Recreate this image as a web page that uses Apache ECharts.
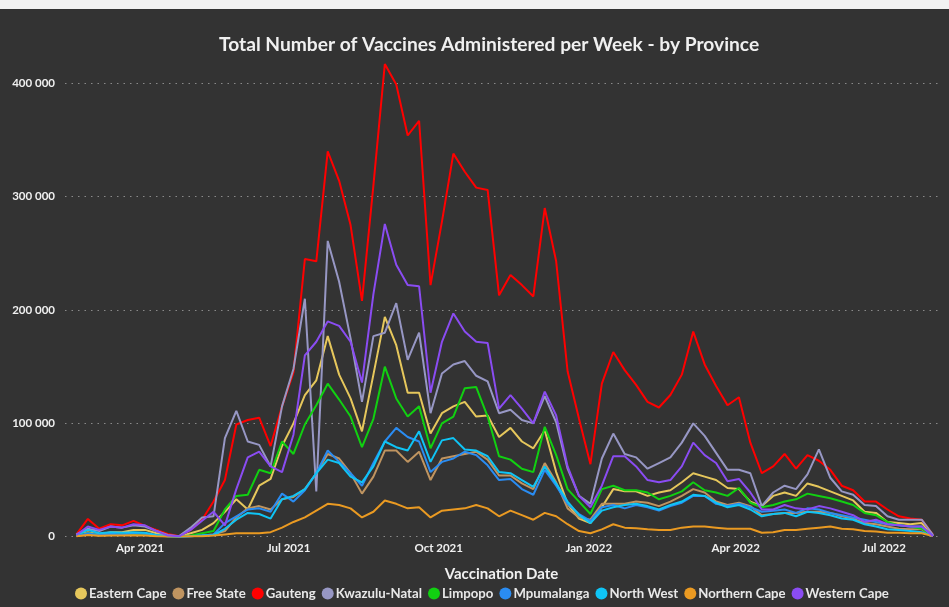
<!DOCTYPE html>
<html>
<head>
<meta charset="utf-8">
<script src="https://cdn.jsdelivr.net/npm/echarts@6/dist/echarts.min.js"></script>
<style>
  html, body { margin: 0; padding: 0; background: #f2f2f2; }
  #chart { position: absolute; left: 0; top: 9px; width: 949px; height: 598px; background: #333333; }
</style>
</head>
<body>
<div id="chart"></div>
<script>
// Week start dates (one point per week)
const weeks = [
  '2021-02-21','2021-02-28','2021-03-07','2021-03-14','2021-03-21','2021-03-28',
  '2021-04-04','2021-04-11','2021-04-18','2021-04-25','2021-05-02','2021-05-09',
  '2021-05-16','2021-05-23','2021-05-30','2021-06-06','2021-06-13','2021-06-20',
  '2021-06-27','2021-07-04','2021-07-11','2021-07-18','2021-07-25','2021-08-01',
  '2021-08-08','2021-08-15','2021-08-22','2021-08-29','2021-09-05','2021-09-12',
  '2021-09-19','2021-09-26','2021-10-03','2021-10-10','2021-10-17','2021-10-24',
  '2021-10-31','2021-11-07','2021-11-14','2021-11-21','2021-11-28','2021-12-05',
  '2021-12-12','2021-12-19','2021-12-26','2022-01-02','2022-01-09','2022-01-16',
  '2022-01-23','2022-01-30','2022-02-06','2022-02-13','2022-02-20','2022-02-27',
  '2022-03-06','2022-03-13','2022-03-20','2022-03-27','2022-04-03','2022-04-10',
  '2022-04-17','2022-04-24','2022-05-01','2022-05-08','2022-05-15','2022-05-22',
  '2022-05-29','2022-06-05','2022-06-12','2022-06-19','2022-06-26','2022-07-03',
  '2022-07-10','2022-07-17','2022-07-24','2022-07-31'
];

// Quarter labels on the date axis
const quarterTicks = ['2021-04-01','2021-07-01','2021-10-01','2022-01-01','2022-04-01','2022-07-01'];
const yTicks = [0, 100000, 200000, 300000, 400000];

const provinces = ['Eastern Cape','Free State','Gauteng','Kwazulu-Natal','Limpopo','Mpumalanga','North West','Northern Cape','Western Cape'];
const colors = ['#e6c75c','#bf9460','#ff0000','#9797c4','#11d011','#2a8cf2','#0fc4f5','#ea9a22','#8a4cf2'];

const easternCape = [1000,4000,2000,4000,4000,6000,6000,3000,1000,200,3000,6000,12000,22000,33000,24000,45000,51000,80000,100000,125000,138000,177000,143000,122000,93000,143000,194000,169000,127000,127000,91000,109000,115000,119000,106000,107000,88000,96000,84000,78000,94000,57000,29000,16000,12000,26000,42000,40000,40000,36000,39000,41000,48000,56000,53000,50000,43000,42000,31000,27000,36000,39000,36000,47000,44000,40000,36000,32000,22000,21000,13000,12000,11000,12000,1000];
const freeState = [500,2000,1000,1500,1500,2000,2000,800,300,100,500,1000,2000,5000,17000,25000,27000,24000,33000,35000,42000,56000,73000,69000,56000,38000,53000,76000,76000,66000,75000,50000,69000,71000,73000,75000,68000,54000,54000,47000,42000,65000,48000,25000,17000,15000,29000,29000,29000,31000,30000,27000,31000,36000,42000,39000,31000,28000,30000,27000,19000,20000,21000,21000,22000,22000,21000,18000,16000,12000,11000,9000,7000,6500,6500,500];
const gauteng = [2000,15700,7000,11000,10000,14000,9500,6000,2500,500,6000,15000,31000,50000,99000,103000,105000,80000,115000,145000,245000,243000,340000,314000,275000,208000,310000,417000,399000,354000,367000,222000,278000,338000,322000,308000,306000,213000,231000,222000,212000,290000,243000,146000,104000,64000,135000,163000,147000,134000,119000,114000,125000,143000,181000,152000,133000,116000,123000,83000,56000,62000,73000,60000,72000,67000,59000,45000,41000,31000,31000,24000,18000,16000,15000,1500];
const kwazuluNatal = [2000,7000,5000,9000,8000,10000,9000,5000,1500,500,8000,17000,18000,87000,111000,84000,81000,62000,115000,148000,210000,40000,261000,225000,175000,119000,177000,180000,206000,156000,180000,109000,144000,152000,155000,142000,137000,109000,112000,103000,100000,124000,101000,60000,36000,29000,69000,91000,73000,70000,60000,65000,70000,83000,100000,89000,74000,59000,59000,56000,27000,39000,45000,42000,55000,77000,52000,40000,37000,28000,27000,18000,15000,15000,15000,1500];
const limpopo = [1000,3000,1500,2000,2000,2500,2000,1000,500,100,1000,3000,5000,24000,36000,37000,59000,56000,84000,73000,99000,116000,135000,121000,106000,79000,104000,150000,122000,106000,115000,78000,100000,106000,131000,132000,106000,71000,68000,60000,57000,97000,72000,42000,31000,20000,42000,45000,41000,41000,39000,33000,36000,40000,48000,41000,39000,36000,43000,30000,26000,28000,31000,33000,38000,36000,34000,31000,28000,21000,19000,13000,10000,9000,7000,500];
const mpumalanga = [500,3000,1500,2500,2000,3000,2500,1000,300,100,500,1000,2000,12000,18000,24000,25000,22000,38000,31000,41000,56000,76000,66000,56000,45000,65000,84000,96000,88000,84000,57000,66000,69000,75000,72000,63000,50000,51000,42000,37000,59000,45000,29000,20000,14000,26000,28000,25000,28000,26000,23000,27000,30000,36000,36000,29000,27000,29000,26000,22000,23000,24000,21000,25000,24000,21000,19000,17000,15000,13000,11000,10000,9000,9000,500];
const northWest = [1500,6000,3000,4000,3500,4000,3500,1500,500,100,500,1000,1500,7000,15000,21000,20000,16000,33000,36000,42000,56000,68000,65000,53000,48000,62000,84000,79000,76000,93000,66000,85000,87000,77000,76000,71000,57000,56000,50000,44000,62000,47000,31000,19000,12000,23000,26000,28000,29000,27000,24000,28000,31000,37000,36000,30000,26000,28000,24000,18000,20000,21000,18000,22000,21000,19000,16000,15000,11000,9000,6500,6000,5000,4000,500];
const northernCape = [300,1500,800,1000,1000,1200,1000,500,200,100,300,500,1000,2000,3000,3000,3000,4000,8000,13000,17000,23000,29000,28000,25000,17000,22000,32000,29000,25000,26000,17000,23000,24000,25000,28000,25000,18000,23000,19000,15000,21000,18000,11000,5000,3000,6500,11000,8000,7500,6500,6000,6000,8000,9000,9000,8000,7000,7000,7000,3500,4000,6000,6000,7000,8000,9000,7000,6500,5000,4500,3500,3500,3000,3000,500];
const westernCape = [1500,9000,6000,9000,8000,11000,10000,5000,1000,300,6000,14000,22000,10000,42000,70000,75000,62000,57000,90000,160000,172000,190000,186000,172000,136000,214000,276000,240000,222000,221000,127000,172000,197000,181000,172000,171000,113000,125000,113000,100000,128000,107000,62000,36000,26000,45000,71000,71000,62000,50000,48000,50000,62000,83000,72000,65000,49000,51000,39000,24000,24000,28000,25000,24000,27000,25000,22000,19000,13000,15000,11000,10000,9000,9000,500];

const seriesValues = [easternCape, freeState, gauteng, kwazuluNatal, limpopo, mpumalanga, northWest, northernCape, westernCape];

const fmtThousands = v => String(v).replace(/\B(?=(\d{3})+(?!\d))/g, ' ');
const monthNames = ['Jan','Feb','Mar','Apr','May','Jun','Jul','Aug','Sep','Oct','Nov','Dec'];
const toTime = s => { const p = s.split('-').map(Number); return Date.UTC(p[0], p[1] - 1, p[2]); };

const chart = echarts.init(document.getElementById('chart'), null, { renderer: 'canvas' });
const textFont = "'Liberation Sans Narrow', 'Lato', sans-serif";

chart.setOption({
  backgroundColor: '#333333',
  animation: false,
  color: colors,
  title: {
    text: 'Total Number of Vaccines Administered per Week - by Province',
    left: 214,
    top: 21,
    textStyle: { color: '#f0f0f0', fontSize: 19.2, fontWeight: 'bold', fontFamily: textFont }
  },
  legend: {
    data: provinces,
    bottom: 2,
    left: 70,
    icon: 'circle',
    itemWidth: 12,
    itemHeight: 12,
    itemGap: 6,
    textStyle: { color: '#e8e8e8', fontSize: 13.2, fontWeight: 'bold', fontFamily: textFont, padding: [0, 0, 0, -3] }
  },
  grid: { left: 65, right: 11, top: 51.7, bottom: 70.3, containLabel: false },
  xAxis: {
    type: 'value',
    min: toTime('2021-02-14'),
    max: toTime('2022-08-03'),
    name: 'Vaccination Date',
    nameLocation: 'middle',
    nameGap: 30,
    nameTextStyle: { color: '#f0f0f0', fontSize: 15, fontWeight: 'bold', fontFamily: textFont },
    axisLine: { show: false },
    axisTick: { show: false },
    splitLine: { show: false },
    axisLabel: {
      customValues: quarterTicks.map(toTime),
      color: '#f0f0f0',
      fontSize: 11.5,
      fontWeight: 'bold',
      fontFamily: textFont,
      margin: 6,
      formatter: v => { const d = new Date(v); return monthNames[d.getUTCMonth()] + ' ' + d.getUTCFullYear(); }
    }
  },
  yAxis: {
    type: 'value',
    min: 0,
    max: 420000,
    interval: 100000,
    axisLine: { show: false },
    axisTick: { show: false },
    axisLabel: {
      customValues: yTicks,
      color: '#f0f0f0',
      fontSize: 11.5,
      fontWeight: 'bold',
      fontFamily: textFont,
      margin: 10,
      formatter: v => fmtThousands(v)
    },
    splitLine: {
      show: true,
      showMaxLine: false,
      lineStyle: { color: '#8a8a8a', type: [1.5, 5], width: 1.2 }
    }
  },
  series: provinces.map((name, k) => ({
    name,
    type: 'line',
    showSymbol: false,
    symbol: 'none',
    lineStyle: { width: 2 },
    data: weeks.map((w, i) => [toTime(w), seriesValues[k][i]])
  }))
});
</script>
</body>
</html>
